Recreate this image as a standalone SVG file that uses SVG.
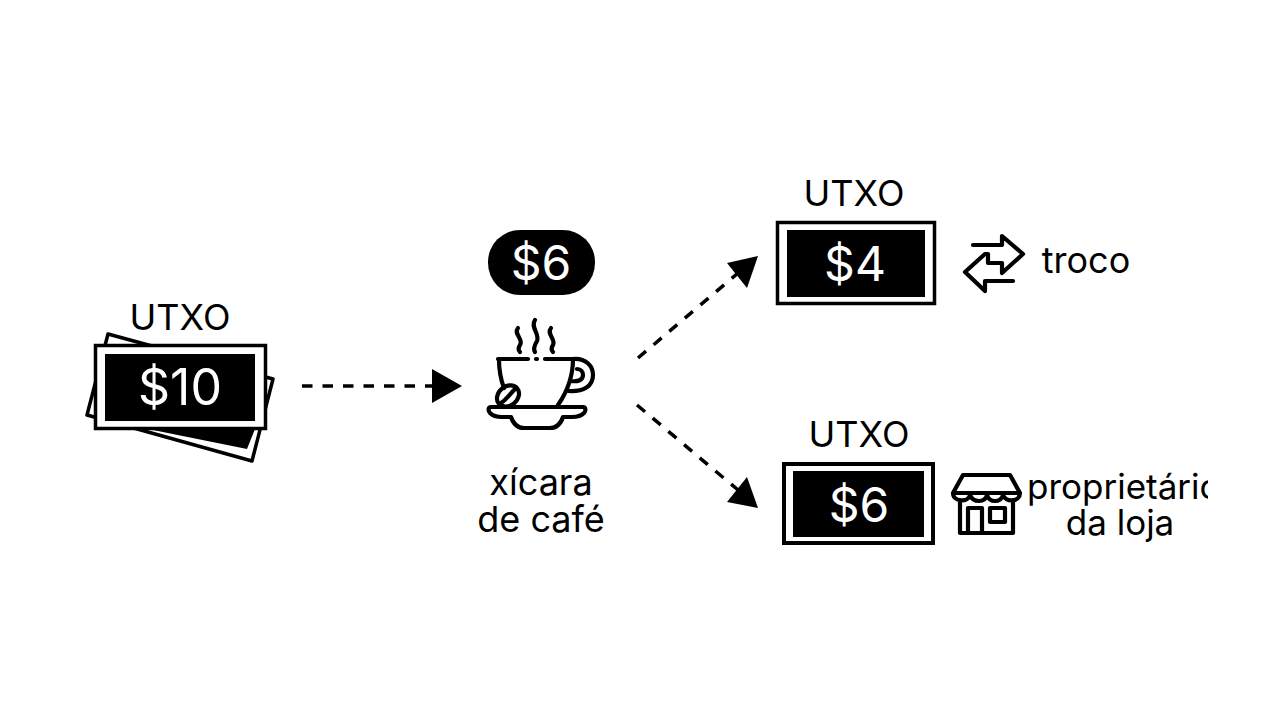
<svg xmlns="http://www.w3.org/2000/svg" width="1280" height="720" viewBox="0 0 1280 720">
<defs><clipPath id="ownerClip"><rect x="1020" y="465" width="188" height="50"/></clipPath></defs>
<style>
text{font-family:"Inter","Liberation Sans",sans-serif;text-anchor:middle;fill:#000}
.lbl{font-size:36px}
.own{font-size:35px}
.val{fill:#fff;font-size:48px}
.frame{fill:#fff;stroke:#000;stroke-width:3.5}
.ico{fill:none;stroke:#000;stroke-width:4.2;stroke-linecap:round;stroke-linejoin:round}
.con{fill:none;stroke:#000;stroke-width:3.5;stroke-dasharray:10.5 10}
</style>
<rect width="1280" height="720" fill="#fff"/>
<g id="connectors">
<path class="con" d="M302 386H434"/><polygon points="432,369 462,386 432,403"/>
<path class="con" d="M638 358L738 273"/><polygon points="727,263 758,256 747,288"/>
<path class="con" d="M637 405L738 490"/><polygon points="747,477 758,508 727,502"/>
</g>
<g id="utxo10">
<text class="lbl" x="180" y="330">UTXO</text>
<path d="M108 334L87 415L252 461L273 379Z" fill="#fff" stroke="#000" stroke-width="3.5" stroke-linejoin="round"/>
<path d="M148 429H255L247 449Z" fill="#000"/>
<rect class="frame" x="95.500" y="345.500" width="170" height="83"/>
<rect x="105" y="354" width="150" height="67"/>
<text class="val" x="180" y="405" style="font-size:50px">$10</text>
</g>
<g id="price">
<rect x="488" y="230" width="107" height="65" rx="32"/>
<text class="val" x="541" y="280">$6</text>
</g>
<g id="coffee">
<path class="ico" d="M518 328C513 334 524 339 520 345C518 348 518 350 520 352M535 320C530 327 540 334 537 341C534 346 533 349 535 352M551 328C546 334 556 339 553 345C551 348 551 350 553 352"/>
<path class="ico" d="M498 359H528M536 359H537M545 359H573C573 378 567 392 558 405M499 360C499 370 501 380 504 388"/>
<path class="ico" d="M573 359C586 358 593 366 593 375C593 386 584 392 568 391M577 369C581 369 583 372 583 375C583 380 578 382 571 381"/>
<ellipse class="ico" cx="508" cy="396" rx="12" ry="9.500" transform="rotate(-40 508 396)"/>
<path class="ico" stroke-width="3" d="M501 403C506 400 509 395 515 389"/>
<path class="ico" d="M491 407H583C586 407 586 411 584 413C581 416 576 417 572 417H563C561 423 557 428 550 428H524C517 428 513 423 511 417H502C498 417 493 416 490 413C488 411 488 407 491 407Z"/>
</g>
<g id="cup-label">
<text class="lbl" x="541" y="495">xícara</text>
<text class="lbl" x="541" y="532">de café</text>
</g>
<g id="utxo4">
<text class="lbl" x="854" y="206">UTXO</text>
<rect class="frame" x="777.500" y="222.500" width="157" height="81"/>
<rect x="787" y="230" width="138" height="67"/>
<text class="val" x="855" y="281">$4</text>
</g>
<g id="troco">
<path class="ico" d="M973 245H1002V236L1023 254L1002 273V263H988V254H985L965 272L985 291V281H1013"/>
<text class="lbl" x="1086" y="273">troco</text>
</g>
<g id="utxo6">
<text class="lbl" x="859" y="447">UTXO</text>
<rect class="frame" x="784" y="464" width="149" height="79" style="stroke-width:4"/>
<rect x="793" y="471" width="131" height="66"/>
<text class="val" x="859" y="522">$6</text>
</g>
<g id="shop">
<path class="ico" d="M963 475H1010L1020 493C1020 502 1006 503 1003 495C1001 503 989 503 987 495C985 503 973 503 970 495C968 503 953 502 953 493ZM953 493H1020M960 500V533H1013V500M968 533V508H982V533M990 508H1005V522H990Z"/>
</g>
<g id="owner">
<g clip-path="url(#ownerClip)"><text class="own" x="1027" y="499" style="text-anchor:start">proprietário</text></g>
<text class="own" x="1120" y="535">da loja</text>
</g>
</svg>
